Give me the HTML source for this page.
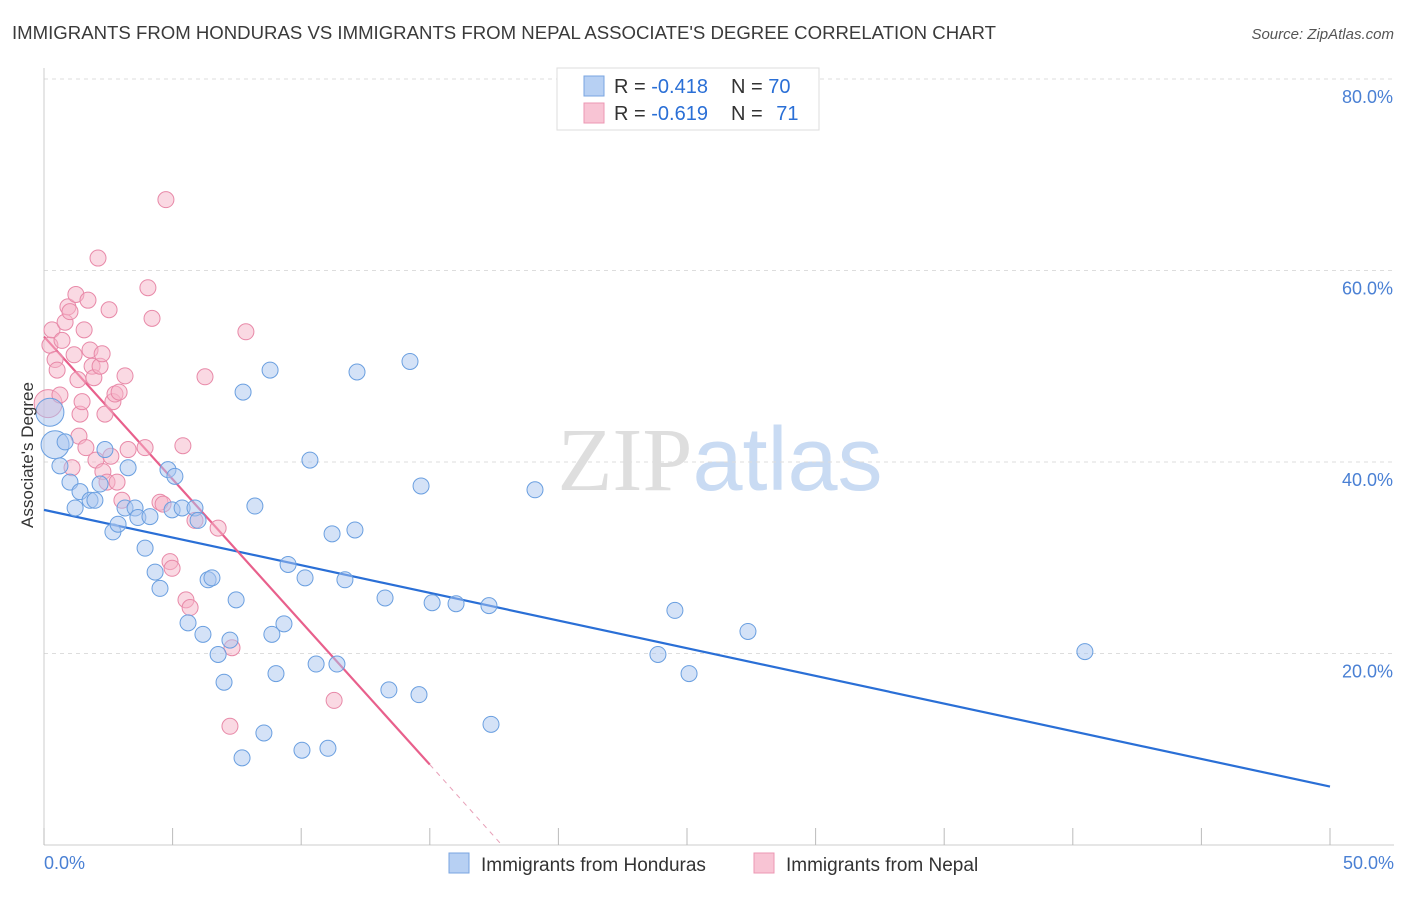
<!DOCTYPE html>
<html><head><meta charset="utf-8"><style>
body{margin:0;background:#fff;font-family:"Liberation Sans",sans-serif;}
svg text{font-family:"Liberation Sans",sans-serif;}
</style></head><body>
<svg id="chart" width="1406" height="892" xmlns="http://www.w3.org/2000/svg">
<text x="12" y="39" font-size="18" fill="#3a3a3a" textLength="984" lengthAdjust="spacingAndGlyphs">IMMIGRANTS FROM HONDURAS VS IMMIGRANTS FROM NEPAL ASSOCIATE'S DEGREE CORRELATION CHART</text>
<text x="1394" y="39" font-size="15" fill="#555" font-style="italic" text-anchor="end">Source: ZipAtlas.com</text>
<text x="720" y="490" font-size="90" text-anchor="middle"><tspan fill="#dedede" font-family="Liberation Serif">ZIP</tspan><tspan fill="#c9dbf3">atlas</tspan></text>
<g id="grid"></g><g id="axes"></g><g id="trends"></g><g id="points"></g>
<text transform="translate(33,455) rotate(-90)" font-size="17" fill="#333" text-anchor="middle">Associate's Degree</text>
<text x="44" y="869" font-size="18" fill="#4a80d4">0.0%</text>
<text x="1394" y="869" font-size="18" fill="#4a80d4" text-anchor="end">50.0%</text>
<g>
<rect x="557" y="68" width="262" height="62" fill="#fff" stroke="#ddd"/>
<rect x="584" y="76" width="20" height="20" fill="#b7d0f3" stroke="#7aa5e0"/>
<rect x="584" y="103" width="20" height="20" fill="#f8c4d4" stroke="#ec97b3"/>
<text x="614" y="93" font-size="20" fill="#333">R = <tspan fill="#2a6fd6">-0.418</tspan></text>
<text x="731" y="93" font-size="20" fill="#333">N = <tspan fill="#2a6fd6">70</tspan></text>
<text x="614" y="120" font-size="20" fill="#333">R = <tspan fill="#2a6fd6">-0.619</tspan></text>
<text x="731" y="120" font-size="20" fill="#333">N = <tspan fill="#2a6fd6" dx="8">71</tspan></text>
</g>
<g>
<rect x="449" y="853" width="20" height="20" fill="#b7d0f3" stroke="#7aa5e0"/>
<text x="481" y="871" font-size="19" fill="#333">Immigrants from Honduras</text>
<rect x="754" y="853" width="20" height="20" fill="#f8c4d4" stroke="#ec97b3"/>
<text x="786" y="871" font-size="19" fill="#333">Immigrants from Nepal</text>
</g>
</svg>
<script>
const yTicks=[20,40,60,80];
const yTickLabels=["20.0%","40.0%","60.0%","80.0%"];
const xTicks=[0,5,10,15,20,25,30,35,40,45,50];
const hondurasX=[0.23,0.43,0.62,0.82,1.01,1.21,1.40,1.79,1.98,2.18,2.37,2.68,2.88,3.15,3.27,3.54,3.65,3.93,4.12,4.32,4.51,4.82,4.98,5.09,5.37,5.60,5.87,5.99,6.18,6.38,6.53,6.77,7.00,7.23,7.47,7.70,7.74,8.20,8.55,8.79,8.86,9.02,9.33,9.49,10.03,10.15,10.34,10.58,11.04,11.20,11.39,11.70,12.09,12.17,13.26,13.41,14.23,14.58,14.66,15.09,16.02,17.30,17.38,19.09,23.87,24.53,25.08,27.37,40.47];
const hondurasY=[45.2,41.8,39.6,42.1,37.9,35.2,36.9,36.0,36.0,37.7,41.3,32.7,33.5,35.2,39.4,35.2,34.2,31.0,34.3,28.5,26.8,39.2,35.0,38.5,35.2,23.2,35.2,33.9,22.0,27.7,27.9,19.9,17.0,21.4,25.6,9.1,47.3,35.4,11.7,49.6,22.0,17.9,23.1,29.3,9.9,27.9,40.2,18.9,10.1,32.5,18.9,27.7,32.9,49.4,25.8,16.2,50.5,15.7,37.5,25.3,25.2,25.0,12.6,37.1,19.9,24.5,17.9,22.3,20.2];
const hondurasBig=[0,1];
const nepalX=[0.16,0.23,0.31,0.43,0.51,0.62,0.70,0.82,0.93,1.01,1.09,1.17,1.24,1.32,1.36,1.40,1.48,1.56,1.63,1.71,1.79,1.87,1.94,2.02,2.10,2.18,2.26,2.29,2.37,2.45,2.53,2.60,2.68,2.76,2.84,2.92,3.03,3.15,3.27,3.93,4.04,4.20,4.51,4.63,4.74,4.90,4.98,5.40,5.52,5.68,5.87,6.26,6.77,7.23,7.31,7.85,11.28];
const nepalY=[46.1,52.2,53.8,50.7,49.6,47.0,52.7,54.6,56.2,55.7,39.4,51.2,57.5,48.6,42.7,45.0,46.3,53.8,41.5,56.9,51.7,50.0,48.8,40.2,61.3,50.0,51.3,39.0,45.0,37.9,55.9,40.6,46.3,47.1,37.9,47.3,36.0,49.0,41.3,41.5,58.2,55.0,35.8,35.6,67.4,29.6,28.9,41.7,25.6,24.8,33.9,48.9,33.1,12.4,20.6,53.6,15.1];
const nepalBig=[0];
const hondurasTrend=[[0,35.0],[50,6.1]];
const nepalTrendSolid=[[0,53.1],[15.0,8.4]];
const nepalTrendDash=[[15.0,8.4],[17.8,0]];

const NS="http://www.w3.org/2000/svg";
const sx=v=>44+v/50*1286;
const sy=v=>845-v/20*191.5;
function mk(tag,attrs,parent){const e=document.createElementNS(NS,tag);for(const k in attrs)e.setAttribute(k,attrs[k]);parent.appendChild(e);return e;}
const grid=document.getElementById('grid'),axes=document.getElementById('axes'),trends=document.getElementById('trends'),pts=document.getElementById('points');
yTicks.forEach((t,i)=>{
  const l=mk('line',{x1:44,x2:1394,y1:sy(t),y2:sy(t),stroke:'#ddd','stroke-dasharray':'4,4'},grid);
  
  
  const tx=mk('text',{x:1393,y:sy(t)+24,'font-size':18,fill:'#4a80d4','text-anchor':'end'},grid);
  tx.textContent=yTickLabels[i];
  
  
});
const ya=mk('line',{x1:44,x2:44,y1:68,y2:845,stroke:'#ccc'},axes);


const xa=mk('line',{x1:44,x2:1394,y1:845,y2:845,stroke:'#ccc'},axes);


xTicks.forEach(t=>{
  const l=mk('line',{x1:sx(t),x2:sx(t),y1:828,y2:845,stroke:'#bbb'},axes);
  
  
});
function drawPts(X,Y,big,fill,stroke,name){
  X.forEach((x,i)=>{
    const r=big.includes(i)?14:8;
    const c=mk('circle',{cx:sx(x),cy:sy(Y[i]),r:r,fill:fill,'fill-opacity':0.5,stroke:stroke,'stroke-width':1},pts);
    
    
  });
}
drawPts(nepalX,nepalY,nepalBig,'#f5b3c8','#e889a8','nepal-point');
drawPts(hondurasX,hondurasY,hondurasBig,'#a9c6ef','#6a9fe0','honduras-point');
function line(p,color,dash,name){
  const a={x1:sx(p[0][0]),y1:sy(p[0][1]),x2:sx(p[1][0]),y2:sy(p[1][1]),stroke:color,'stroke-width':dash?1:2.2};
  if(dash)a['stroke-dasharray']='5,5';
  const l=mk('line',a,trends);
  
  
}
line(hondurasTrend,'#2a6fd6',false,'honduras-trend-line');
line(nepalTrendSolid,'#e8608c',false,'nepal-trend-line');
line(nepalTrendDash,'#e8a0b8',true,'nepal-trend-extension');
</script>
</body></html>
